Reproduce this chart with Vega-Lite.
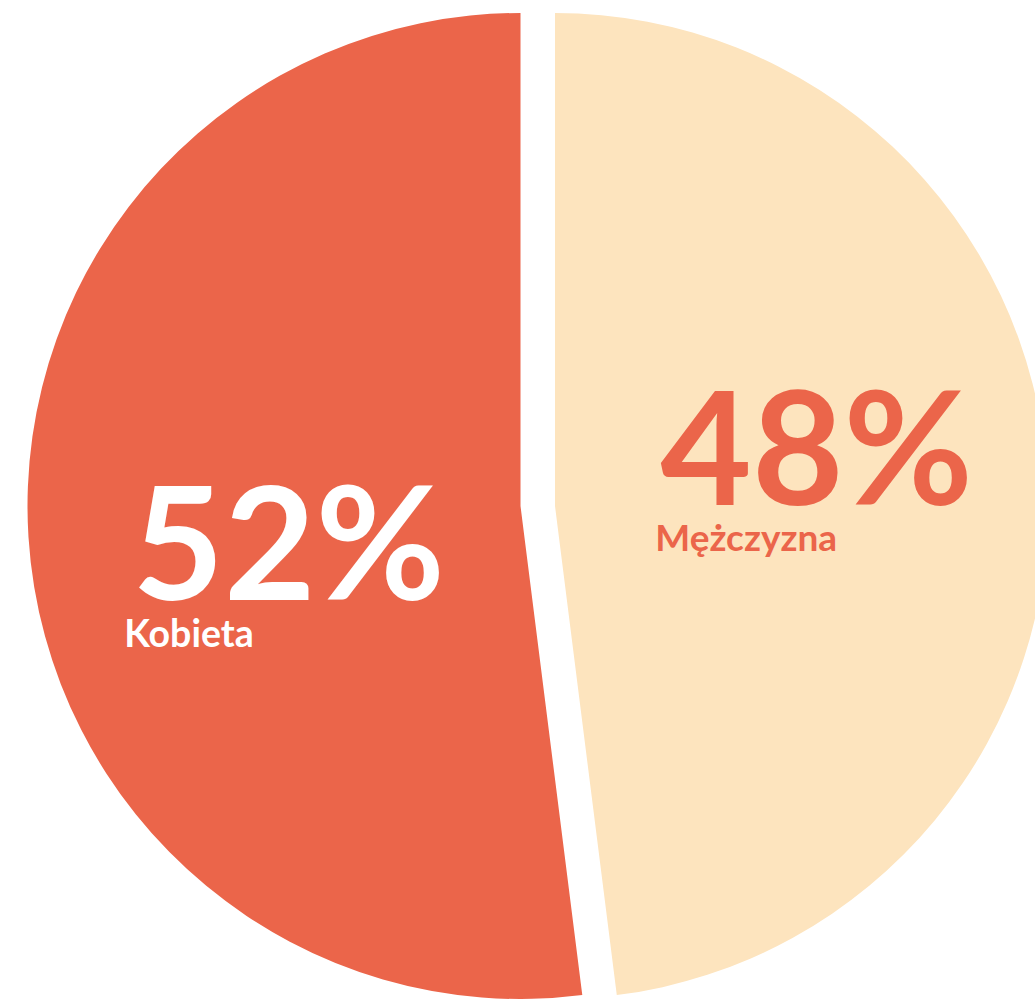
{
  "$schema": "https://vega.github.io/schema/vega-lite/v6.json",
  "autosize": {"type": "none"},
  "padding": {"left": 40.5, "top": 13, "right": 0, "bottom": 0},
  "width": 994.5,
  "height": 986,
  "background": "white",
  "config": {"view": {"stroke": null}},
  "data": {
    "values": [
      {"plec": "Mężczyzna", "value": 48, "label": "48%"},
      {"plec": "Kobieta", "value": 52, "label": "52%"}
    ]
  },
  "transform": [
    {"stack": "value", "groupby": [], "as": ["start", "end"], "sort": [{"field": "value", "order": "ascending"}]}
  ],
  "layer": [
    {
      "transform": [{"filter": "datum.plec === 'Mężczyzna'"}],
      "mark": {"type": "arc", "radius": 493, "xOffset": 17.25, "color": "#FDE4BE"},
      "encoding": {
        "theta": {"field": "start", "type": "quantitative", "scale": {"domain": [0, 100]}},
        "theta2": {"field": "end"}
      }
    },
    {
      "transform": [{"filter": "datum.plec === 'Kobieta'"}],
      "mark": {"type": "arc", "radius": 493, "xOffset": -17.25, "color": "#EB654A"},
      "encoding": {
        "theta": {"field": "start", "type": "quantitative", "scale": {"domain": [0, 100]}},
        "theta2": {"field": "end"}
      }
    },
    {
      "mark": {"type": "text", "radius": 250, "align": "left", "baseline": "alphabetic", "dx": -127, "dy": 15, "font": "Lato", "fontWeight": "bold", "fontSize": 158, "color": "#EB654A"},
      "encoding": {
        "theta": {"field": "value", "type": "quantitative", "stack": true, "scale": {"domain": [0, 100]}},
        "order": {"field": "value", "type": "quantitative", "sort": "ascending"},
        "detail": {"field": "plec", "type": "nominal"},
        "text": {"condition": {"test": "datum.plec === 'Mężczyzna'", "field": "label", "type": "nominal"}, "value": ""}
      }
    },
    {
      "mark": {"type": "text", "radius": 250, "align": "left", "baseline": "alphabetic", "dx": -132, "dy": 61, "font": "Lato", "fontWeight": "bold", "fontSize": 37, "color": "#EB654A"},
      "encoding": {
        "theta": {"field": "value", "type": "quantitative", "stack": true, "scale": {"domain": [0, 100]}},
        "order": {"field": "value", "type": "quantitative", "sort": "ascending"},
        "detail": {"field": "plec", "type": "nominal"},
        "text": {"condition": {"test": "datum.plec === 'Mężczyzna'", "field": "plec", "type": "nominal"}, "value": ""}
      }
    },
    {
      "mark": {"type": "text", "radius": 250, "align": "left", "baseline": "alphabetic", "dx": -156, "dy": 78, "font": "Lato", "fontWeight": "bold", "fontSize": 158, "color": "white"},
      "encoding": {
        "theta": {"field": "value", "type": "quantitative", "stack": true, "scale": {"domain": [0, 100]}},
        "order": {"field": "value", "type": "quantitative", "sort": "ascending"},
        "detail": {"field": "plec", "type": "nominal"},
        "text": {"condition": {"test": "datum.plec === 'Kobieta'", "field": "label", "type": "nominal"}, "value": ""}
      }
    },
    {
      "mark": {"type": "text", "radius": 250, "align": "left", "baseline": "alphabetic", "dx": -164, "dy": 125, "font": "Lato", "fontWeight": "bold", "fontSize": 37.5, "color": "white"},
      "encoding": {
        "theta": {"field": "value", "type": "quantitative", "stack": true, "scale": {"domain": [0, 100]}},
        "order": {"field": "value", "type": "quantitative", "sort": "ascending"},
        "detail": {"field": "plec", "type": "nominal"},
        "text": {"condition": {"test": "datum.plec === 'Kobieta'", "field": "plec", "type": "nominal"}, "value": ""}
      }
    }
  ]
}
